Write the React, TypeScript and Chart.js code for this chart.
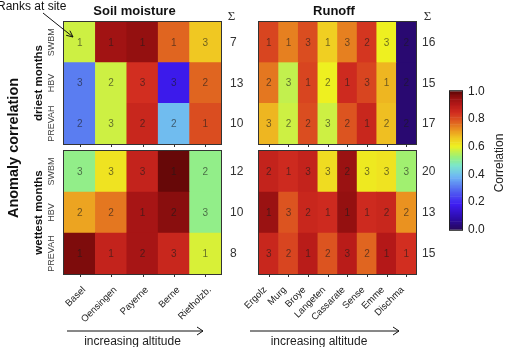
import { useEffect, useRef } from "react";
import { Chart, registerables } from "chart.js";

Chart.register(...registerables);

const FONT = "'Liberation Sans', Arial, Helvetica, sans-serif";

// Models (rows, top to bottom) and sites (columns, increasing altitude)
const models = ["SWBM", "HBV", "PREVAH"];
const soilSites = ["Basel", "Oensingen", "Payerne", "Berne", "Rietholzb."];
const runoffSites = ["Ergolz", "Murg", "Broye", "Langeten", "Cassarate", "Sense", "Emme", "Dischma"];

// Anomaly correlation per model (rows) and site (columns)
const soilDryCorr = [
  [0.57, 0.93, 0.95, 0.77, 0.66],
  [0.31, 0.57, 0.84, 0.17, 0.77],
  [0.31, 0.57, 0.86, 0.39, 0.8],
];
const soilWetCorr = [
  [0.51, 0.62, 0.87, 0.99, 0.51],
  [0.7, 0.75, 0.92, 0.96, 0.51],
  [0.97, 0.87, 0.92, 0.86, 0.58],
];
const runoffDryCorr = [
  [0.81, 0.74, 0.8, 0.65, 0.74, 0.83, 0.6, 0.02],
  [0.75, 0.56, 0.81, 0.6, 0.85, 0.81, 0.68, 0.02],
  [0.68, 0.57, 0.8, 0.57, 0.79, 0.86, 0.67, 0.02],
];
const runoffWetCorr = [
  [0.87, 0.85, 0.87, 0.63, 0.94, 0.61, 0.62, 0.53],
  [0.94, 0.79, 0.86, 0.85, 0.95, 0.85, 0.86, 0.72],
  [0.86, 0.81, 0.89, 0.79, 0.89, 0.77, 0.9, 0.84],
];

// Rank of each model at each site
const soilDryRank = [
  [1, 1, 1, 1, 3],
  [3, 2, 3, 3, 2],
  [2, 3, 2, 2, 1],
];
const soilWetRank = [
  [3, 3, 3, 1, 2],
  [2, 2, 1, 2, 3],
  [1, 1, 2, 3, 1],
];
const runoffDryRank = [
  [1, 1, 3, 1, 3, 2, 3, 2],
  [2, 3, 1, 2, 1, 3, 1, 2],
  [3, 2, 2, 3, 2, 1, 2, 2],
];
const runoffWetRank = [
  [2, 1, 3, 3, 2, 3, 3, 3],
  [1, 3, 2, 1, 1, 1, 2, 2],
  [3, 2, 1, 2, 3, 2, 1, 1],
];

// Colour-bar tick values
const barTicks = [0, 0.2, 0.4, 0.6, 0.8, 1.0];

// Colour map: value -> rgb
const colorStops: [number, number, number, number][] = [
  [0.0, 40, 8, 94],
  [0.08, 44, 12, 168],
  [0.18, 62, 28, 242],
  [0.28, 82, 100, 240],
  [0.38, 110, 182, 244],
  [0.46, 124, 230, 204],
  [0.52, 150, 240, 124],
  [0.6, 238, 240, 32],
  [0.66, 240, 200, 34],
  [0.72, 234, 146, 32],
  [0.78, 222, 92, 32],
  [0.84, 210, 46, 32],
  [0.9, 180, 24, 24],
  [0.95, 148, 16, 16],
  [1.0, 92, 6, 6],
];

function corrColor(v: number): string {
  const t = Math.max(0, Math.min(1, v));
  for (let i = 1; i < colorStops.length; i++) {
    const [b, r1, g1, b1] = colorStops[i];
    if (t <= b) {
      const [a, r0, g0, b0] = colorStops[i - 1];
      const f = (t - a) / (b - a);
      const r = Math.round(r0 + (r1 - r0) * f);
      const g = Math.round(g0 + (g1 - g0) * f);
      const bl = Math.round(b0 + (b1 - b0) * f);
      return `rgb(${r},${g},${bl})`;
    }
  }
  const last = colorStops[colorStops.length - 1];
  return `rgb(${last[1]},${last[2]},${last[3]})`;
}

type HeatmapProps = {
  corr: number[][];
  rank: number[][];
  sites: string[];
  left: number;
  top: number;
  width: number;
  height: number;
  rowLabels?: boolean;
  siteLabels?: boolean;
  sumGap: number;
  siteShift: number;
};

function Heatmap(p: HeatmapProps) {
  const ref = useRef<HTMLCanvasElement>(null);
  const padL = 36;
  const padR = 34;
  const padT = 2;
  const padB = p.siteLabels ? 72 : 6;
  const cw = padL + p.width + padR;
  const ch = padT + p.height + padB;

  useEffect(() => {
    const nRows = p.corr.length;
    const datasets = p.corr
      .map((row, r) => ({
        label: models[r],
        data: row.map(() => 1),
        backgroundColor: row.map(corrColor),
        borderWidth: 0,
        barPercentage: 1,
        categoryPercentage: 1,
      }))
      .reverse();

    const cellText = {
      id: "cellText",
      afterDatasetsDraw(chart: any) {
        const { ctx, chartArea: a, scales } = chart;
        const x = scales.x;
        const y = scales.y;
        ctx.save();
        // frame
        ctx.strokeStyle = "#333";
        ctx.lineWidth = 1;
        ctx.strokeRect(a.left - 0.5, a.top - 0.5, a.right - a.left + 1, a.bottom - a.top + 1);
        // tick marks
        ctx.beginPath();
        p.sites.forEach((_, i) => {
          const px = Math.round(x.getPixelForValue(i)) + 0.5;
          ctx.moveTo(px, a.bottom);
          ctx.lineTo(px, a.bottom + 3);
        });
        ctx.stroke();
        // ranks inside the cells
        ctx.font = `10px ${FONT}`;
        ctx.textAlign = "center";
        ctx.textBaseline = "middle";
        ctx.fillStyle = "rgba(28,28,28,0.62)";
        p.rank.forEach((row, r) => {
          const py = y.getPixelForValue(nRows - r - 0.5);
          row.forEach((v, i) => {
            ctx.fillText(String(v), x.getPixelForValue(i), py + 0.5);
          });
        });
        // row sums
        ctx.font = `12px ${FONT}`;
        ctx.textAlign = "left";
        ctx.fillStyle = "#333";
        p.rank.forEach((row, r) => {
          const py = y.getPixelForValue(nRows - r - 0.5);
          const sum = row.reduce((s, v) => s + v, 0);
          ctx.fillText(String(sum), a.right + p.sumGap, py + 0.5);
        });
        // model labels
        if (p.rowLabels) {
          ctx.font = `9px ${FONT}`;
          ctx.fillStyle = "#444";
          ctx.textAlign = "center";
          models.forEach((m, r) => {
            const py = y.getPixelForValue(nRows - r - 0.5);
            ctx.save();
            ctx.translate(a.left - 12, py);
            ctx.rotate(-Math.PI / 2);
            ctx.fillText(m, 0, 0);
            ctx.restore();
          });
        }
        // site labels
        if (p.siteLabels) {
          ctx.font = `9.5px ${FONT}`;
          ctx.fillStyle = "#222";
          ctx.textAlign = "right";
          ctx.textBaseline = "top";
          p.sites.forEach((s, i) => {
            ctx.save();
            ctx.translate(x.getPixelForValue(i) + p.siteShift, a.bottom + 11);
            ctx.rotate(-Math.PI / 4);
            ctx.fillText(s, 0, 0);
            ctx.restore();
          });
        }
        ctx.restore();
      },
    };

    const chart = new Chart(ref.current!, {
      type: "bar",
      data: { labels: p.sites, datasets },
      options: {
        responsive: false,
        animation: false,
        devicePixelRatio: 1,
        events: [],
        layout: { padding: { left: padL, right: padR, top: padT, bottom: padB } },
        plugins: { legend: { display: false }, tooltip: { enabled: false } },
        scales: {
          x: { type: "category", stacked: true, display: false, offset: true },
          y: { type: "linear", stacked: true, display: false, min: 0, max: nRows },
        },
      } as any,
      plugins: [cellText],
    });
    return () => chart.destroy();
  }, []);

  return (
    <canvas
      ref={ref}
      width={cw}
      height={ch}
      style={{ position: "absolute", left: p.left - padL, top: p.top - padT, width: cw, height: ch }}
    />
  );
}

function ColorBar() {
  const ref = useRef<HTMLCanvasElement>(null);
  const left = 440;
  const top = 78;
  const cw = 66;
  const ch = 165;

  useEffect(() => {
    const n = 100;
    const datasets = Array.from({ length: n }, (_, i) => {
      const lo = i / n;
      const hi = (i + 1) / n;
      return {
        data: [[lo, hi]],
        backgroundColor: corrColor((lo + hi) / 2),
        borderWidth: 0,
        barPercentage: 1,
        categoryPercentage: 1,
        grouped: false,
      };
    });

    const frame = {
      id: "barFrame",
      afterDatasetsDraw(chart: any) {
        const { ctx, chartArea: a } = chart;
        ctx.save();
        ctx.strokeStyle = "#222";
        ctx.lineWidth = 1;
        ctx.strokeRect(a.left - 0.5, a.top - 0.5, a.right - a.left + 1, a.bottom - a.top + 1);
        ctx.font = `12px ${FONT}`;
        ctx.fillStyle = "#222";
        ctx.textAlign = "center";
        ctx.textBaseline = "middle";
        ctx.translate(60, 85);
        ctx.rotate(-Math.PI / 2);
        ctx.fillText("Correlation", 0, 0);
        ctx.restore();
      },
    };

    const chart = new Chart(ref.current!, {
      type: "bar",
      data: { labels: [""], datasets },
      options: {
        responsive: false,
        animation: false,
        devicePixelRatio: 1,
        events: [],
        layout: { padding: { left: 10, right: 0, top: 6, bottom: 10 } },
        plugins: { legend: { display: false }, tooltip: { enabled: false } },
        scales: {
          x: { display: false },
          y: {
            position: "right",
            min: 0,
            max: 1,
            grid: { display: false, drawTicks: false },
            border: { display: false },
            afterBuildTicks: (s: any) => {
              s.ticks = barTicks.map((v) => ({ value: v }));
            },
            afterFit: (s: any) => {
              s.width = 44;
            },
            ticks: {
              padding: 6,
              color: "#222",
              font: { family: FONT, size: 12 },
              callback: (v: any) => Number(v).toFixed(1),
            },
          },
        },
      } as any,
      plugins: [frame],
    });
    return () => chart.destroy();
  }, []);

  return (
    <canvas
      ref={ref}
      width={cw}
      height={ch}
      style={{ position: "absolute", left, top, width: cw, height: ch }}
    />
  );
}

export default function App() {
  return (
    <div
      style={{
        position: "absolute",
        left: 0,
        top: 0,
        width: 506,
        height: 347,
        overflow: "hidden",
        background: "#fff",
      }}
    >
      <Heatmap corr={soilDryCorr} rank={soilDryRank} sites={soilSites} left={64} top={22} width={157} height={122} rowLabels sumGap={9} siteShift={1} />
      <Heatmap corr={soilWetCorr} rank={soilWetRank} sites={soilSites} left={64} top={151} width={157} height={123} rowLabels siteLabels sumGap={9} siteShift={1} />
      <Heatmap corr={runoffDryCorr} rank={runoffDryRank} sites={runoffSites} left={259} top={22} width={157} height={122} sumGap={6} siteShift={-7} />
      <Heatmap corr={runoffWetCorr} rank={runoffWetRank} sites={runoffSites} left={259} top={151} width={157} height={123} siteLabels sumGap={6} siteShift={-7} />
      <ColorBar />
      <svg
        width={506}
        height={347}
        style={{ position: "absolute", left: 0, top: 0, pointerEvents: "none" }}
      >
        <g fontFamily={FONT} fill="#111">
          <text x={134.5} y={10} textAnchor="middle" dominantBaseline="central" fontWeight="bold" fontSize={13}>
            Soil moisture
          </text>
          <text x={334} y={10} textAnchor="middle" dominantBaseline="central" fontWeight="bold" fontSize={13}>
            Runoff
          </text>
          <text x={231.5} y={15.5} textAnchor="middle" dominantBaseline="central" fontSize={13} fontFamily="'Liberation Serif', 'DejaVu Serif', serif" fill="#333">
            Σ
          </text>
          <text x={427.5} y={15.5} textAnchor="middle" dominantBaseline="central" fontSize={13} fontFamily="'Liberation Serif', 'DejaVu Serif', serif" fill="#333">
            Σ
          </text>
          <text transform="translate(13,148) rotate(-90)" textAnchor="middle" dominantBaseline="central" fontWeight="bold" fontSize={14.5}>
            Anomaly correlation
          </text>
          <text transform="translate(37.5,83) rotate(-90)" textAnchor="middle" dominantBaseline="central" fontWeight="bold" fontSize={11.5}>
            driest months
          </text>
          <text transform="translate(37.5,212.5) rotate(-90)" textAnchor="middle" dominantBaseline="central" fontWeight="bold" fontSize={11.5}>
            wettest months
          </text>
          <text x={-3} y={6} dominantBaseline="central" fontSize={12}>
            Ranks at site
          </text>
          <text x={132.5} y={341} textAnchor="middle" dominantBaseline="central" fontSize={12} fill="#222">
            increasing altitude
          </text>
          <text x={319} y={341} textAnchor="middle" dominantBaseline="central" fontSize={12} fill="#222">
            increasing altitude
          </text>
        </g>
        <g stroke="#111" strokeWidth={1} fill="none">
          <line x1={43} y1={13} x2={73} y2={37} />
          <polyline points="69.9,30.7 73,37 66.2,35.3" />
          <line x1={67} y1={331} x2={203} y2={331} />
          <polyline points="197,327 203,331 197,335" />
          <line x1={250} y1={331} x2={399} y2={331} />
          <polyline points="393,327 399,331 393,335" />
        </g>
      </svg>
    </div>
  );
}
